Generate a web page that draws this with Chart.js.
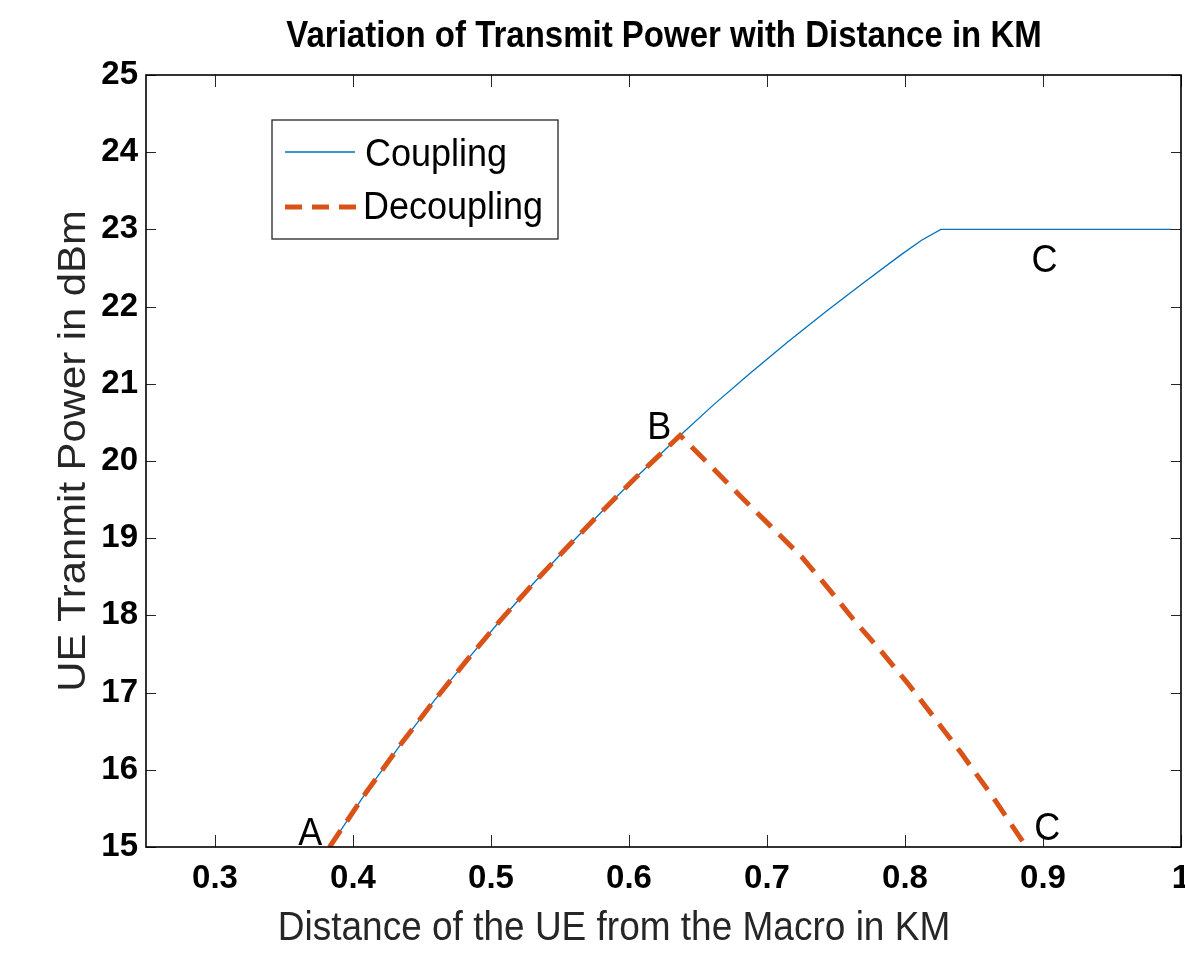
<!DOCTYPE html>
<html lang="en">
<head>
  <meta charset="UTF-8" />
  <title>Variation of Transmit Power with Distance in KM</title>
  <script src="https://cdn.jsdelivr.net/npm/chart.js"></script>
  <style>
    body { margin: 0; background: #fff; }
    canvas { display: block; }
  </style>
</head>
<body>
  <canvas id="grafico" width="1185" height="955"></canvas>

  <script>
    // values
    const couplingX = [0.383, 0.41, 0.435, 0.459, 0.483, 0.507, 0.531, 0.555, 0.58, 0.604, 0.637, 0.662, 0.688, 0.715, 0.743, 0.77, 0.797, 0.812, 0.826, 0.993];
    const couplingY = [15, 15.72, 16.34, 16.9, 17.43, 17.94, 18.42, 18.88, 19.34, 19.77, 20.33, 20.74, 21.14, 21.54, 21.94, 22.31, 22.67, 22.86, 23, 23];

    const decouplingX = [0.383, 0.41, 0.435, 0.459, 0.483, 0.507, 0.531, 0.555, 0.58, 0.604, 0.637, 0.659, 0.681, 0.703, 0.725, 0.744, 0.763, 0.783, 0.802, 0.821, 0.841, 0.864, 0.888];
    const decouplingY = [15, 15.72, 16.34, 16.9, 17.43, 17.94, 18.42, 18.88, 19.34, 19.77, 20.33, 19.94, 19.54, 19.15, 18.76, 18.36, 17.94, 17.53, 17.12, 16.68, 16.21, 15.64, 15];

    const xTicks = [0.3, 0.4, 0.5, 0.6, 0.7, 0.8, 0.9, 1];
    const yTicks = [15, 16, 17, 18, 19, 20, 21, 22, 23, 24, 25];

    const markText = ["A", "B", "C", "C"];
    const markX = [0.369, 0.622, 0.901, 0.903];
    const markY = [15.03, 20.28, 22.45, 15.09];

    const FONT = "'Liberation Sans', Arial, sans-serif";
    const STRETCH = 1.1;

    function toPoints(xs, ys) {
      return xs.map((x, i) => ({ x: x, y: ys[i] }));
    }

    function drawText(ctx, text, x, y, size, weight, color, align, vertical) {
      ctx.save();
      ctx.translate(x, y);
      ctx.scale(1, STRETCH);
      if (vertical) ctx.rotate(-Math.PI / 2);
      ctx.font = weight + " " + size + "px " + FONT;
      ctx.fillStyle = color;
      ctx.textAlign = align;
      ctx.textBaseline = "alphabetic";
      ctx.fillText(text, 0, 0);
      ctx.restore();
    }

    const moldura = {
      id: "moldura",
      afterDraw(chart) {
        const ctx = chart.ctx;
        const a = chart.chartArea;
        const sx = chart.scales.x;
        const sy = chart.scales.y;

        ctx.save();
        // inward ticks on all four sides
        ctx.strokeStyle = "#262626";
        ctx.lineWidth = 1;
        ctx.beginPath();
        xTicks.forEach(v => {
          const px = Math.round(sx.getPixelForValue(v)) + 0.5;
          ctx.moveTo(px, a.bottom); ctx.lineTo(px, a.bottom - 12);
          ctx.moveTo(px, a.top); ctx.lineTo(px, a.top + 12);
        });
        yTicks.forEach(v => {
          const py = Math.round(sy.getPixelForValue(v)) + 0.5;
          ctx.moveTo(a.left, py); ctx.lineTo(a.left + 10, py);
          ctx.moveTo(a.right, py); ctx.lineTo(a.right - 10, py);
        });
        ctx.stroke();

        ctx.strokeStyle = "#000";
        ctx.lineWidth = 1.6;
        ctx.strokeRect(a.left, a.top, a.right - a.left, a.bottom - a.top);

        // point labels
        markText.forEach((t, i) => {
          drawText(ctx, t, sx.getPixelForValue(markX[i]), sy.getPixelForValue(markY[i]), 36, "normal", "#000", "center", false);
        });

        // legend
        ctx.fillStyle = "#fff";
        ctx.fillRect(272, 120, 286, 119);
        ctx.strokeStyle = "#262626";
        ctx.lineWidth = 1.3;
        ctx.strokeRect(272, 120, 286, 119);

        ctx.strokeStyle = "#0072BD";
        ctx.lineWidth = 1.3;
        ctx.beginPath();
        ctx.moveTo(285, 152); ctx.lineTo(355, 152);
        ctx.stroke();

        ctx.strokeStyle = "#D95319";
        ctx.lineWidth = 5;
        ctx.setLineDash([17, 10]);
        ctx.beginPath();
        ctx.moveTo(285, 207); ctx.lineTo(356, 207);
        ctx.stroke();
        ctx.setLineDash([]);

        drawText(ctx, "Coupling", 365, 166, 36, "normal", "#000", "left", false);
        drawText(ctx, "Decoupling", 363, 219, 36, "normal", "#000", "left", false);

        // titles
        drawText(ctx, "Variation of Transmit Power with Distance in KM", 664, 47, 33, "bold", "#000", "center", false);
        drawText(ctx, "Distance of the UE from the Macro in KM", 614, 940, 37, "normal", "#262626", "center", false);
        drawText(ctx, "UE Tranmit Power in dBm", 85, 451, 38, "normal", "#262626", "center", true);
        ctx.restore();
      }
    };

    const tickFont = { family: FONT, size: 33, weight: "bold" };

    new Chart(document.getElementById("grafico").getContext("2d"), {
      type: "line",
      data: {
        datasets: [
          {
            label: "Coupling",
            data: toPoints(couplingX, couplingY),
            borderColor: "#0072BD",
            borderWidth: 1.3,
            pointRadius: 0,
            tension: 0,
            order: 2
          },
          {
            label: "Decoupling",
            data: toPoints(decouplingX, decouplingY),
            borderColor: "#D95319",
            borderWidth: 5,
            borderDash: [20, 11],
            pointRadius: 0,
            tension: 0,
            order: 1
          }
        ]
      },
      options: {
        responsive: false,
        animation: false,
        layout: { padding: { top: 75, right: 4, left: 0, bottom: 0 } },
        plugins: {
          legend: { display: false },
          title: { display: false },
          tooltip: { enabled: false }
        },
        scales: {
          x: {
            type: "linear",
            min: 0.25,
            max: 1,
            afterBuildTicks: s => { s.ticks = xTicks.map(v => ({ value: v })); },
            afterFit: s => {
              s.height = 108;
              s.paddingLeft = 0;
              s.paddingRight = 0;
            },
            grid: { display: false, drawTicks: false },
            border: { display: false },
            ticks: {
              padding: 12,
              color: "#000",
              font: tickFont,
              maxRotation: 0,
              autoSkip: false,
              callback: v => String(Math.round(v * 10) / 10)
            }
          },
          y: {
            type: "linear",
            min: 15,
            max: 25,
            afterBuildTicks: s => { s.ticks = yTicks.map(v => ({ value: v })); },
            afterFit: s => {
              s.width = 146;
              s.paddingTop = 0;
              s.paddingBottom = 0;
            },
            grid: { display: false, drawTicks: false },
            border: { display: false },
            ticks: {
              padding: 8,
              color: "#000",
              font: tickFont,
              autoSkip: false
            }
          }
        }
      },
      plugins: [moldura]
    });
  </script>
</body>
</html>
